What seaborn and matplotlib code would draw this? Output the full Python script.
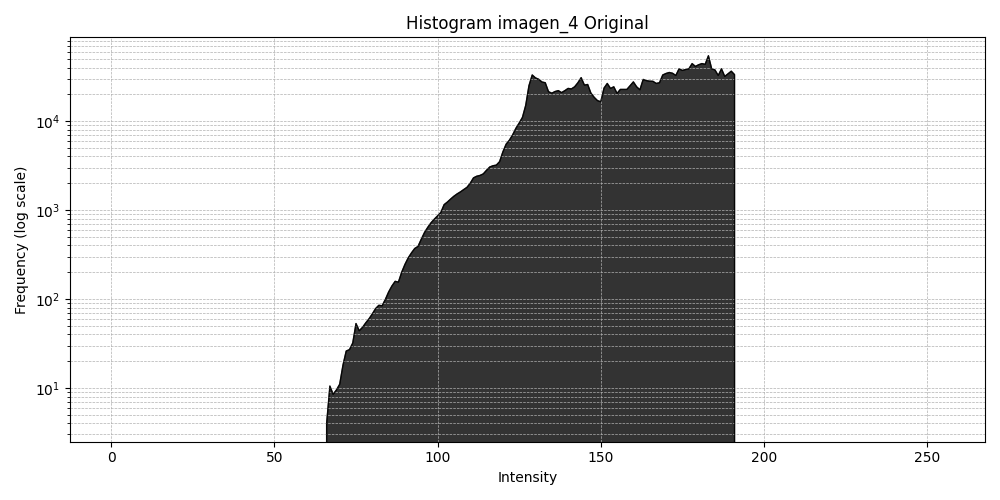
import numpy as np
import pandas as pd
import matplotlib
matplotlib.use("Agg")
import matplotlib.pyplot as plt
import seaborn as sns

# Histogram counts (intensity bins 66..191, all other bins are empty)
first_bin = 66
counts = [
    4, 10.5, 8.5, 9.5, 11, 18, 26, 27, 32, 53,
    44, 48, 54, 60, 68, 78, 85, 84, 99, 120,
    140, 158, 155, 200, 245, 290, 330, 370, 390, 470,
    560, 640, 720, 790, 860, 940, 1150, 1230, 1330, 1430,
    1520, 1600, 1700, 1800, 2000, 2300, 2400, 2450, 2550, 2800,
    3050, 3150, 3200, 3500, 4500, 5500, 6100, 7000, 8300, 9500,
    11000, 15000, 25000, 33000, 30600, 29500, 27500, 27000, 21400, 20600,
    21500, 22000, 20900, 22000, 23300, 23000, 24300, 27000, 30800, 25400,
    25800, 20600, 18500, 17000, 16500, 23500, 26500, 23300, 24300, 20500,
    22700, 22700, 22700, 25000, 27600, 24300, 22500, 29400, 28500, 28100,
    28000, 26500, 27000, 33000, 34300, 35200, 34500, 32600, 38700, 37100,
    38000, 38700, 44300, 41200, 43000, 44300, 43500, 54300, 38700, 37600,
    32600, 38700, 31800, 34000, 36400, 33300,
]

intensity = np.arange(256)
hist = np.zeros(256)
hist[first_bin:first_bin + len(counts)] = counts
df = pd.DataFrame({"Intensity": intensity, "Frequency": hist})

fig, ax = plt.subplots(figsize=(10, 5))
ax.fill_between(df["Intensity"], df["Frequency"], color="black", alpha=0.8)
sns.lineplot(data=df, x="Intensity", y="Frequency", color="black", linewidth=0.8, alpha=0.8, ax=ax)
ax.set_yscale("log")
ax.set_title("Histogram imagen_4 Original")
ax.set_xlabel("Intensity")
ax.set_ylabel("Frequency (log scale)")
ax.grid(True, which="both", linestyle="--", linewidth=0.5)
plt.tight_layout()
plt.savefig("out.png", dpi=100)
